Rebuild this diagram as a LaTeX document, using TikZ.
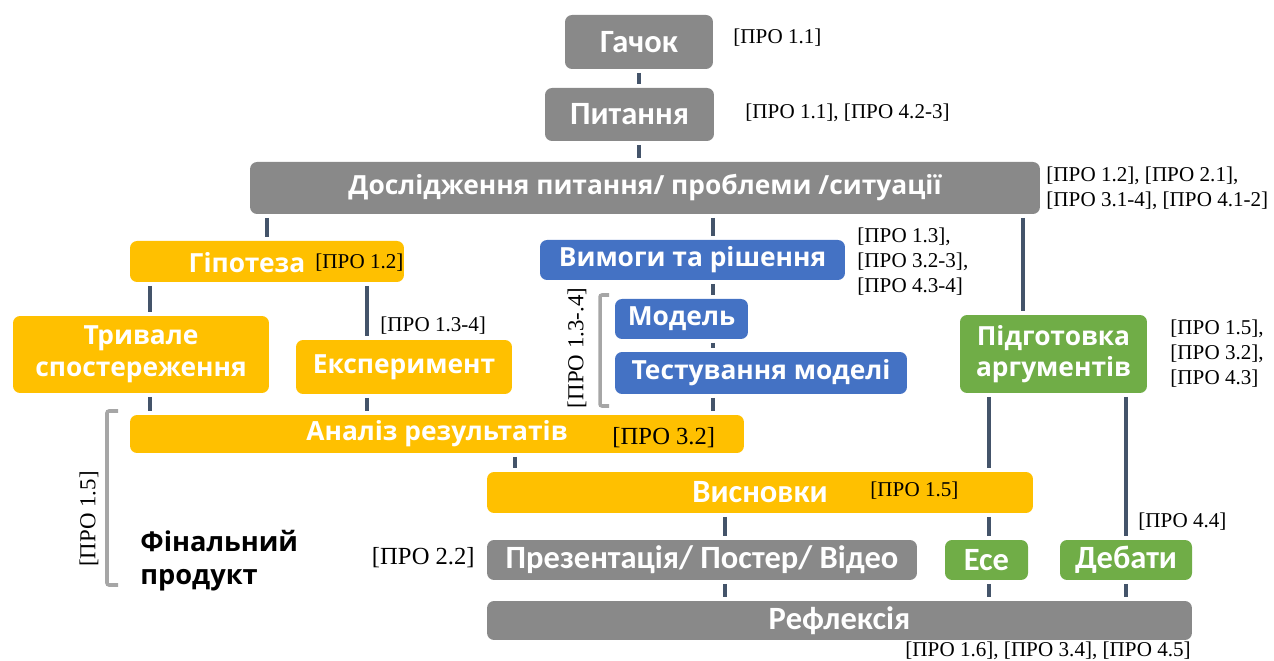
\documentclass[tikz,border=0pt]{standalone}
\usepackage{fontspec}
\setmainfont{Liberation Serif}
\newfontfamily\roundfont{Open Sans}
\newfontfamily\narrowfont{Carlito}

\definecolor{boxgrey}{HTML}{898989}
\definecolor{boxyellow}{HTML}{FFC000}
\definecolor{boxblue}{HTML}{4472C4}
\definecolor{boxgreen}{HTML}{70AD47}
\definecolor{linkcol}{HTML}{44546A}
\definecolor{brackcol}{HTML}{A6A6A6}

\tikzset{
    box/.style = {rounded corners=0.14cm, inner sep=0pt, text=white, align=center,
                  font={\roundfont\bfseries\fontsize{15}{18}\selectfont}},
    narrow/.style = {font={\narrowfont\bfseries\fontsize{18.5}{21}\selectfont}},
    greybox/.style = {box, fill=boxgrey},
    yellowbox/.style = {box, fill=boxyellow},
    bluebox/.style = {box, fill=boxblue},
    greenbox/.style = {box, fill=boxgreen},
    link/.style = {draw=linkcol, line width=2.2pt, shorten <=0.07cm, shorten >=0.07cm},
    bracket/.style = {draw=brackcol, line width=2pt, rounded corners=0.04cm},
    ref/.style = {inner sep=0pt, align=left, black, font={\fontsize{12}{14.2}\selectfont}},
    bigref/.style = {ref, font={\fontsize{14}{16}\selectfont}}
}

\begin{document}
\begin{tikzpicture}[x=0.02cm, y=-0.02cm]
        \useasboundingbox (0,0) rectangle (1274,661);

        % columns for the connectors
        \coordinate (cmain) at (639,0);
        \coordinate (cmod) at (713,0);
        \coordinate (carg) at (1023,0);
        \coordinate (cleft) at (150,0);
        \coordinate (cexp) at (367,0);
        \coordinate (cana) at (515,0);
        \coordinate (cese) at (989,0);
        \coordinate (cpres) at (725,0);

        % top
        \node[greybox, narrow, minimum width=2.96cm, minimum height=1.08cm] (hook) at (639,42) {Гачок};
        \node[greybox, narrow, minimum width=3.38cm, minimum height=1.06cm] (quest) at (629.5,114.5) {Питання};
        \node[greybox, minimum width=15.8cm, minimum height=1.04cm] (dosl) at (645,188) {Дослідження питання/ проблеми /ситуації};

        % second row
        \node[yellowbox, minimum width=5.48cm, minimum height=0.82cm] (hyp) at (267,261.5) {};
        \node[box] (hyptext) at (247,263) {Гіпотеза};
        \node[bluebox, minimum width=6.10cm, minimum height=0.80cm] (vym) at (692.5,260) {Вимоги та рішення};
        \node[bluebox, minimum width=2.66cm, minimum height=0.80cm] (model) at (681.5,319) {Модель};
        \node[bluebox, minimum width=5.84cm, minimum height=0.84cm] (test) at (761,373) {Тестування моделі};
        \node[yellowbox, minimum width=5.12cm, minimum height=1.54cm] (trv) at (141,354.5) {Тривале\\спостереження};
        \node[yellowbox, minimum width=4.32cm, minimum height=1.08cm] (exp) at (404,367) {Експеримент};
        \node[greenbox, minimum width=3.74cm, minimum height=1.56cm] (arg) at (1053.5,354) {Підготовка\\аргументів};

        % results
        \node[yellowbox, minimum width=12.28cm, minimum height=0.76cm] (anal) at (437,434) {Аналіз результатів};
        \node[yellowbox, narrow, minimum width=10.92cm, minimum height=0.82cm] (visn) at (760,492.5) {Висновки};

        % final products
        \node[greybox, narrow, minimum width=8.60cm, minimum height=0.80cm] (pres) at (702,560) {Презентація/ Постер/ Відео};
        \node[greenbox, narrow, minimum width=1.66cm, minimum height=0.80cm] (ese) at (986.5,560) {Есе};
        \node[greenbox, narrow, minimum width=2.64cm, minimum height=0.80cm] (deb) at (1126,560) {Дебати};
        \node[greybox, narrow, minimum width=14.10cm, minimum height=0.78cm] (refl) at (839.5,620.5) {Рефлексія};

        \node[inner sep=0pt, anchor=west, align=left, black, font={\roundfont\bfseries\fontsize{15.5}{18.7}\selectfont}] (final) at (140,561) {Фінальний\\продукт};

        % connectors
        \draw[link] (hook.south -| cmain) -- (quest.north -| cmain);
        \draw[link] (quest.south -| cmain) -- (dosl.north -| cmain);
        \draw[link] (dosl.south -| hyp) -- (hyp.north);
        \draw[link] (dosl.south -| cmod) -- (vym.north -| cmod);
        \draw[link] (dosl.south -| carg) -- (arg.north -| carg);
        \draw[link] (vym.south -| cmod) -- (model.north -| cmod);
        \draw[link] (model.south -| cmod) -- (test.north -| cmod);
        \draw[link] (test.south -| cmod) -- (anal.north -| cmod);
        \draw[link] (hyp.south -| cleft) -- (trv.north -| cleft);
        \draw[link] (hyp.south -| cexp) -- (exp.north -| cexp);
        \draw[link] (trv.south -| cleft) -- (anal.north -| cleft);
        \draw[link] (exp.south -| cexp) -- (anal.north -| cexp);
        \draw[link] (anal.south -| cana) -- (visn.north -| cana);
        \draw[link] (arg.south -| cese) -- (visn.north -| cese);
        \draw[link] (visn.south -| cese) -- (ese.north -| cese);
        \draw[link] (ese.south -| cese) -- (refl.north -| cese);
        \draw[link] (arg.south -| deb) -- (deb.north);
        \draw[link] (deb.south) -- (refl.north -| deb);
        \draw[link] (visn.south -| cpres) -- (pres.north -| cpres);
        \draw[link] (pres.south -| cpres) -- (refl.north -| cpres);

        % brackets
        \draw[bracket] (609,295) -- (600,295) -- (600,406) -- (609,406);
        \draw[bracket] (118,411) -- (107,411) -- (107,585) -- (118,585);
        \node[ref, font={\fontsize{13}{15}\selectfont}, rotate=90] (rmod) at (577,348) {[ПРО 1.3-.4]};
        \node[ref, font={\fontsize{13}{15}\selectfont}, rotate=90] (rfin) at (89,519) {[ПРО 1.5]};

        % references
        \node[ref, anchor=west] (r1) at (733,38) {[ПРО 1.1]};
        \node[ref, anchor=west] (r2) at (745,113) {[ПРО 1.1], [ПРО 4.2-3]};
        \node[ref, anchor=west] (r3) at (1046,188) {[ПРО 1.2], [ПРО 2.1],\\{[ПРО 3.1-4], [ПРО 4.1-2]}};
        \node[ref, anchor=west] (r4) at (315,263) {[ПРО 1.2]};
        \node[ref, anchor=west] (r5) at (380,326) {[ПРО 1.3-4]};
        \node[ref, anchor=west] (r6) at (857,262) {[ПРО 1.3],\\{[ПРО 3.2-3],}\\{[ПРО 4.3-4]}};
        \node[ref, anchor=west] (r7) at (1170,354) {[ПРО 1.5],\\{[ПРО 3.2],}\\{[ПРО 4.3]}};
        \node[bigref, anchor=west] (r8) at (612,438) {[ПРО 3.2]};
        \node[ref, anchor=west] (r9) at (870,491) {[ПРО 1.5]};
        \node[ref, anchor=west] (r10) at (1138,522) {[ПРО 4.4]};
        \node[bigref, anchor=east] (r11) at (475,558) {[ПРО 2.2]};
        \node[ref, anchor=west] (r12) at (905,651) {[ПРО 1.6], [ПРО 3.4], [ПРО 4.5]};

    \end{tikzpicture}
\end{document}
